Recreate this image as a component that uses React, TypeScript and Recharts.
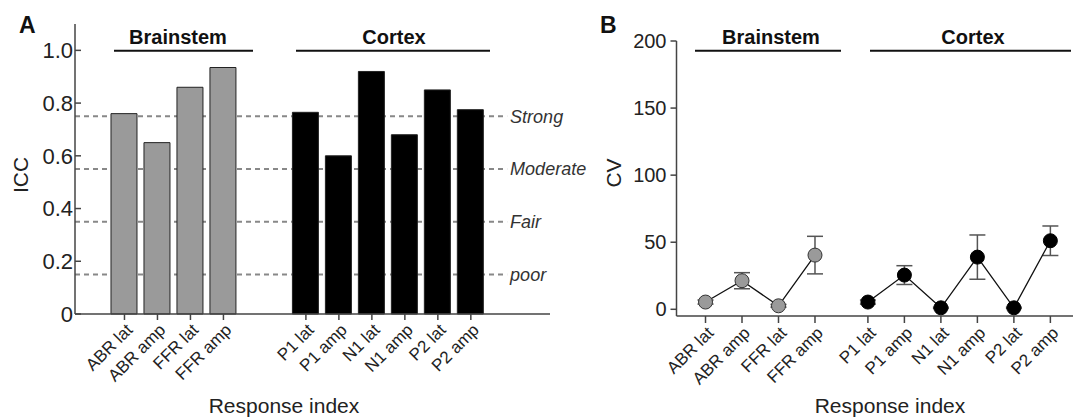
import React from 'react';
import {
    Bar,
    BarChart,
    Cell,
    ErrorBar,
    Line,
    LineChart,
    ReferenceLine,
    XAxis,
    YAxis
} from 'recharts';

const CATEGORIES = ['ABR lat', 'ABR amp', 'FFR lat', 'FFR amp', 'P1 lat', 'P1 amp', 'N1 lat', 'N1 amp', 'P2 lat', 'P2 amp'];
const GROUPS = ['Brainstem', 'Brainstem', 'Brainstem', 'Brainstem', 'Cortex', 'Cortex', 'Cortex', 'Cortex', 'Cortex', 'Cortex'];
const ICC_VALUES = [0.76, 0.65, 0.86, 0.935, 0.765, 0.6, 0.92, 0.68, 0.85, 0.775];
const CV_MEANS = [5.4, 21.3, 2.6, 40.4, 5.4, 25.5, 1.1, 38.9, 1.1, 51.1];
const CV_ERRORS = [1.5, 6, 1, 14, 1.5, 7, 0.5, 16.5, 0.5, 11];
const RELIABILITY_LEVELS = ['Strong', 'Moderate', 'Fair', 'poor'];
const RELIABILITY_CUTOFFS = [0.75, 0.55, 0.35, 0.15];
const ICC_TICKS = [0, 0.2, 0.4, 0.6, 0.8, 1.0];
const CV_TICKS = [0, 50, 100, 150, 200];

const FONT = '"Liberation Sans", Arial, Helvetica, sans-serif';
const AXIS = '#444';
const GRAY = '#9a9a9a';

// spacing between the two groups on the x axis
const ICC_GAP = 1.5;
const CV_GAP = 0.45;

const iccData = CATEGORIES.map((name, i) => ({
    name,
    group: GROUPS[i],
    x: i + 1.5 + (GROUPS[i] === 'Cortex' ? ICC_GAP : 0),
    icc: ICC_VALUES[i]
}));

const cvData = CATEGORIES.map((name, i) => {
    const cortex = GROUPS[i] === 'Cortex';
    return {
        name,
        x: i + 1 + (cortex ? CV_GAP : 0),
        bs: cortex ? null : CV_MEANS[i],
        bsErr: cortex ? null : CV_ERRORS[i],
        cx: cortex ? CV_MEANS[i] : null,
        cxErr: cortex ? CV_ERRORS[i] : null
    };
});

const labelFor = (data: { x: number; name: string }[], v: number) => {
    const hit = data.find(d => Math.abs(d.x - v) < 1e-6);
    return hit ? hit.name : '';
};

const RotatedTick = ({ x, y, payload, data }: any) => (
    <g transform={`translate(${x},${y})`}>
        <text
            x={0}
            y={0}
            dy="0.75em"
            textAnchor="end"
            transform="rotate(-45)"
            fontSize={17}
            fontFamily={FONT}
            fill="#222"
        >
            {labelFor(data, payload.value)}
        </text>
    </g>
);

// y tick whose tick mark points into the plot
const InnerTick = ({ x, y, payload }: any) => (
    <g>
        <line x1={x + 2} x2={x + 8} y1={y} y2={y} stroke={AXIS} strokeWidth={1.5} />
        <text x={x} y={y} dy="0.36em" textAnchor="end" fontSize={22} fontFamily={FONT} fill="#222">
            {payload.value === 0 ? '0' : payload.value.toFixed(1)}
        </text>
    </g>
);

const GroupHeader = ({ label, cx, x1, x2 }: { label: string; cx: number; x1: number; x2: number }) => (
    <g>
        <text x={cx} y={44} textAnchor="middle" fontSize={20} fontWeight="bold" fontFamily={FONT} fill="#111">
            {label}
        </text>
        <line x1={x1} x2={x2} y1={50.7} y2={50.7} stroke="#111" strokeWidth={2} />
    </g>
);

export default function App() {
    return (
        <div style={{ position: 'absolute', left: 0, top: 0, width: 1075, height: 419, background: '#fff', fontFamily: FONT }}>
            <div style={{ position: 'absolute', left: 0, top: 0 }}>
                <BarChart width={610} height={419} data={iccData} margin={{ top: 24, right: 60, bottom: 0, left: 0 }}>
                    <XAxis
                        type="number"
                        dataKey="x"
                        domain={[0, 14.4]}
                        ticks={iccData.map(d => d.x)}
                        interval={0}
                        height={105}
                        tickSize={6}
                        tickLine={{ stroke: AXIS, strokeWidth: 1.5 }}
                        axisLine={{ stroke: AXIS, strokeWidth: 1.5 }}
                        tick={<RotatedTick data={iccData} />}
                    />
                    <YAxis
                        type="number"
                        domain={[0, 1.1]}
                        ticks={ICC_TICKS}
                        width={75}
                        tickSize={0}
                        tickMargin={2}
                        tickLine={false}
                        axisLine={{ stroke: AXIS, strokeWidth: 1.5 }}
                        tick={<InnerTick />}
                    />
                    {RELIABILITY_CUTOFFS.map((c, i) => (
                        <ReferenceLine
                            key={RELIABILITY_LEVELS[i]}
                            segment={[{ x: 0, y: c }, { x: 13.1, y: c }]}
                            stroke="#888"
                            strokeWidth={2}
                            strokeDasharray="5 4"
                            zIndex={0}
                            label={{
                                value: RELIABILITY_LEVELS[i],
                                position: 'right',
                                offset: 3,
                                fontSize: 18,
                                fontStyle: 'italic',
                                fontFamily: FONT,
                                fill: '#333'
                            }}
                        />
                    ))}
                    <Bar dataKey="icc" barSize={26} isAnimationActive={false} stroke="#222" strokeWidth={1}>
                        {iccData.map((d, i) => (
                            <Cell key={`cell-${i}`} fill={d.group === 'Cortex' ? '#000' : GRAY} />
                        ))}
                    </Bar>
                </BarChart>
            </div>

            <div style={{ position: 'absolute', left: 560, top: 0 }}>
                <LineChart width={515} height={419} data={cvData} margin={{ top: 41, right: 2, bottom: 0, left: 0 }}>
                    <XAxis
                        type="number"
                        dataKey="x"
                        domain={[0.205, 11.07]}
                        ticks={cvData.map(d => d.x)}
                        interval={0}
                        height={103}
                        tickSize={7}
                        tickLine={{ stroke: AXIS, strokeWidth: 1.5 }}
                        axisLine={{ stroke: AXIS, strokeWidth: 1.5 }}
                        tick={<RotatedTick data={cvData} />}
                    />
                    <YAxis
                        type="number"
                        domain={[-5, 200]}
                        ticks={CV_TICKS}
                        width={116.5}
                        tickSize={6}
                        tickMargin={4}
                        tickLine={{ stroke: AXIS, strokeWidth: 1.5 }}
                        axisLine={{ stroke: AXIS, strokeWidth: 1.5 }}
                        tick={{ fontSize: 20, fontFamily: FONT, fill: '#222' }}
                    />
                    <Line
                        dataKey="bs"
                        stroke="#111"
                        strokeWidth={1.3}
                        connectNulls={false}
                        isAnimationActive={false}
                        dot={{ r: 7, fill: GRAY, stroke: '#333', strokeWidth: 1 }}
                    >
                        <ErrorBar dataKey="bsErr" direction="y" width={8} stroke="#555" strokeWidth={1.5} />
                    </Line>
                    <Line
                        dataKey="cx"
                        stroke="#111"
                        strokeWidth={1.3}
                        connectNulls={false}
                        isAnimationActive={false}
                        dot={{ r: 7, fill: '#000', stroke: '#000', strokeWidth: 1 }}
                    >
                        <ErrorBar dataKey="cxErr" direction="y" width={8} stroke="#555" strokeWidth={1.5} />
                    </Line>
                </LineChart>
            </div>

            {/* panel letters, group headers and axis titles */}
            <svg width={1075} height={419} style={{ position: 'absolute', left: 0, top: 0, pointerEvents: 'none' }}>
                <text x={19} y={33} fontSize={23} fontWeight="bold" fontFamily={FONT} fill="#111">A</text>
                <text x={600} y={33} fontSize={23} fontWeight="bold" fontFamily={FONT} fill="#111">B</text>

                <GroupHeader label="Brainstem" cx={178} x1={114} x2={253} />
                <GroupHeader label="Cortex" cx={394} x1={296} x2={490} />
                <GroupHeader label="Brainstem" cx={771} x1={695} x2={841} />
                <GroupHeader label="Cortex" cx={973} x1={870} x2={1071} />

                <text transform="translate(28,175) rotate(-90)" textAnchor="middle" fontSize={21} fontFamily={FONT} fill="#222">ICC</text>
                <text transform="translate(621,173) rotate(-90)" textAnchor="middle" fontSize={21} fontFamily={FONT} fill="#222">CV</text>

                <text x={284} y={413} textAnchor="middle" fontSize={21} fontFamily={FONT} fill="#222">Response index</text>
                <text x={890} y={413} textAnchor="middle" fontSize={21} fontFamily={FONT} fill="#222">Response index</text>
            </svg>
        </div>
    );
}
